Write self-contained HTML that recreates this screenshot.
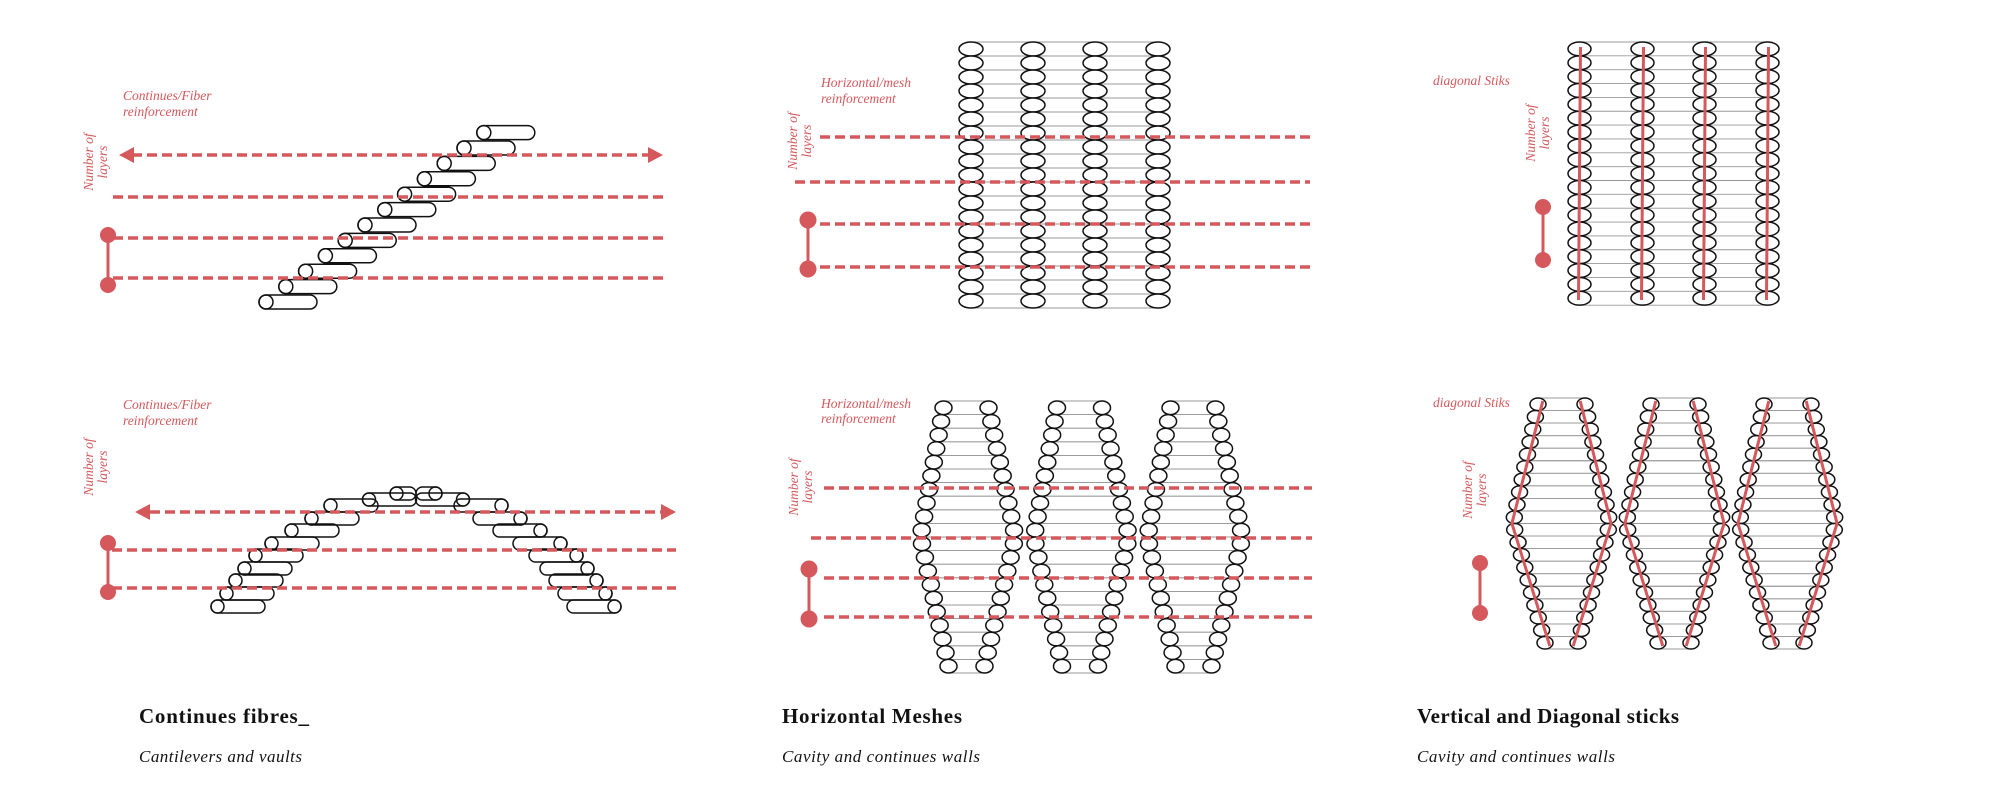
<!DOCTYPE html>
<html><head><meta charset="utf-8">
<style>
html,body{margin:0;padding:0;background:#fff;}
svg{display:block;}
.lbl{font-family:"Liberation Serif",serif;font-style:italic;font-size:13.5px;fill:#d4585c;}
.t{font-family:"Liberation Serif",serif;font-weight:bold;font-size:21px;fill:#111;}
.s{font-family:"Liberation Serif",serif;font-style:italic;font-size:17px;fill:#111;}
</style></head>
<body>
<svg id="s" width="2000" height="801" viewBox="0 0 2000 801" xmlns="http://www.w3.org/2000/svg">
<g id="g"></g>
<text class="lbl" x="123" y="100">Continues/Fiber</text>
<text class="lbl" x="123" y="116">reinforcement</text>
<text class="lbl" transform="translate(96,162) rotate(-90)" text-anchor="middle"><tspan x="0" y="-3">Number of</tspan><tspan x="0" y="11">layers</tspan></text>

<text class="lbl" x="821" y="87">Horizontal/mesh</text>
<text class="lbl" x="821" y="103">reinforcement</text>
<text class="lbl" transform="translate(800,141) rotate(-90)" text-anchor="middle"><tspan x="0" y="-3">Number of</tspan><tspan x="0" y="11">layers</tspan></text>

<text class="lbl" x="1433" y="85">diagonal Stiks</text>
<text class="lbl" transform="translate(1538,133) rotate(-90)" text-anchor="middle"><tspan x="0" y="-3">Number of</tspan><tspan x="0" y="11">layers</tspan></text>

<text class="lbl" x="123" y="409">Continues/Fiber</text>
<text class="lbl" x="123" y="425">reinforcement</text>
<text class="lbl" transform="translate(96,467) rotate(-90)" text-anchor="middle"><tspan x="0" y="-3">Number of</tspan><tspan x="0" y="11">layers</tspan></text>

<text class="lbl" x="821" y="408">Horizontal/mesh</text>
<text class="lbl" x="821" y="423">reinforcement</text>
<text class="lbl" transform="translate(801,487) rotate(-90)" text-anchor="middle"><tspan x="0" y="-3">Number of</tspan><tspan x="0" y="11">layers</tspan></text>

<text class="lbl" x="1433" y="407">diagonal Stiks</text>
<text class="lbl" transform="translate(1475,490) rotate(-90)" text-anchor="middle"><tspan x="0" y="-3">Number of</tspan><tspan x="0" y="11">layers</tspan></text>

<text class="t" x="139" y="723" textLength="170">Continues fibres_</text>
<text class="s" x="139" y="762" textLength="163">Cantilevers and vaults</text>
<text class="t" x="782" y="723" textLength="180">Horizontal Meshes</text>
<text class="s" x="782" y="762" textLength="198">Cavity and continues walls</text>
<text class="t" x="1417" y="723" textLength="262">Vertical and Diagonal sticks</text>
<text class="s" x="1417" y="762" textLength="198">Cavity and continues walls</text>
</svg>
<script>
var NS="http://www.w3.org/2000/svg",G=document.getElementById("g"),R="#d4585c";
function el(n,a){var e=document.createElementNS(NS,n);for(var k in a)e.setAttribute(k,a[k]);G.appendChild(e);return e;}
function dash(x1,x2,y){el("line",{x1:x1,x2:x2,y1:y,y2:y,stroke:R,"stroke-width":3.5,"stroke-dasharray":"10 5"});}
function arrowL(x,y){el("polygon",{points:(x)+","+y+" "+(x+15)+","+(y-8)+" "+(x+15)+","+(y+8),fill:R});}
function arrowR(x,y){el("polygon",{points:(x)+","+y+" "+(x-15)+","+(y-8)+" "+(x-15)+","+(y+8),fill:R});}
function dots(x,y1,y2,r){el("line",{x1:x,x2:x,y1:y1,y2:y2,stroke:R,"stroke-width":3});el("circle",{cx:x,cy:y1,r:r,fill:R});el("circle",{cx:x,cy:y2,r:r,fill:R});}
function pill(x,y,w,h,circLeft){el("rect",{x:x,y:y,width:w,height:h,rx:h/2,fill:"none",stroke:"#111","stroke-width":1.5});
 var cx=circLeft?x+h/2:x+w-h/2;el("circle",{cx:cx,cy:y+h/2,r:h/2,fill:"none",stroke:"#111","stroke-width":1.5});}
function ell(x,y,w,h){el("ellipse",{cx:x+w/2,cy:y+h/2,rx:w/2,ry:h/2,fill:"#fff",stroke:"#111","stroke-width":1.5});}
function gl(x1,x2,y){el("line",{x1:x1,x2:x2,y1:y,y2:y,stroke:"#999","stroke-width":0.9});}

// Panel 1 top
for(var i=0;i<12;i++)pill(259+19.8*i,295-15.4*i,58,14,true);
el("line",{x1:132,x2:650,y1:155,y2:155,stroke:R,"stroke-width":3.5,"stroke-dasharray":"10 5"});
arrowL(119,155);arrowR(663,155);
dash(113,663,197);dash(113,663,238);dash(113,663,278);
dots(108,235,285,8);

// Panel 2 top
var cx2=[959,1021,1083,1146];
for(var k=0;k<=19;k++)gl(971,1158,42+k*14);
for(var c=0;c<4;c++)for(var r=0;r<19;r++)ell(cx2[c],42+r*14,24,14);
dash(820,1310,137);dash(795,1310,182);dash(820,1310,224);dash(820,1310,267);
dots(808,220,269,8.5);

// Panel 3 top
var cx3=[1568,1631,1693,1756];
for(var k=0;k<=19;k++)gl(1579,1768,42+k*13.85);
for(var c=0;c<4;c++)for(var r=0;r<19;r++)ell(cx3[c],42+r*13.85,23,13.85);
for(var c=0;c<4;c++)el("line",{x1:cx3[c]+12.5,x2:cx3[c]+10.5,y1:47,y2:300,stroke:R,"stroke-width":3});
dots(1543,207,260,8);

// Panel 1 bottom (arch)
var L=[[211,600],[220,587],[229,574],[238,562],[249,549],[265,537],[285,524],[305,512],[324,499],[362.5,493]];
for(var i=0;i<L.length;i++){pill(L[i][0],L[i][1],54,13,true);pill(832-L[i][0]-54,L[i][1],54,13,false);}
pill(390,487,26,13,true);pill(416,487,26,13,false);
el("line",{x1:150,x2:661,y1:512,y2:512,stroke:R,"stroke-width":3.5,"stroke-dasharray":"10 5"});
arrowL(135,512);arrowR(676,512);
dash(112,676,550);dash(112,676,588);
dots(108,543,592,8);

function hexShape(off,top,step,rows,w,lt,lm,lb,rt,rm,rb,red){
 var mid=(rows-1)/2,Lc=[],Rc=[];
 for(var r=0;r<rows;r++){var t=Math.abs(r-mid)/mid;var top_=r<mid;
  Lc.push(off+lm+(top_?(lt-lm):(lb-lm))*t);Rc.push(off+rm+(top_?(rt-rm):(rb-rm))*t);}
 for(var r=0;r<rows;r++){gl(Lc[r]+w/2,Rc[r]+w/2,top+r*step);gl(Lc[r]+w/2,Rc[r]+w/2,top+(r+1)*step);}
 for(var r=0;r<rows;r++){ell(Lc[r],top+r*step,w,step);ell(Rc[r],top+r*step,w,step);}
 if(red){
  var pl=(Lc[0]+w*0.8)+","+(top+3)+" "+(Lc[Math.floor(mid)]+w*0.35)+","+(top+step*rows/2)+" "+(Lc[rows-1]+w*0.8)+","+(top+step*rows-3);
  var pr=(Rc[0]+w*0.2)+","+(top+3)+" "+(Rc[Math.floor(mid)]+w*0.65)+","+(top+step*rows/2)+" "+(Rc[rows-1]+w*0.2)+","+(top+step*rows-3);
  el("polyline",{points:pl,fill:"none",stroke:R,"stroke-width":3});
  el("polyline",{points:pr,fill:"none",stroke:R,"stroke-width":3});}
}
// Panel 2 bottom
for(var s=0;s<3;s++)hexShape(113.5*s,401,13.6,20,17,935,912,940,980,1007,976,false);
dash(824,1312,488);dash(811,1312,538);dash(824,1312,578);dash(824,1312,617);
dots(809,569,619,8.5);

// Panel 3 bottom
for(var s=0;s<3;s++)hexShape(113*s,398,12.55,20,16,1530,1505,1537,1577,1602,1570,true);
dots(1480,563,613,8);
</script>
</body></html>
